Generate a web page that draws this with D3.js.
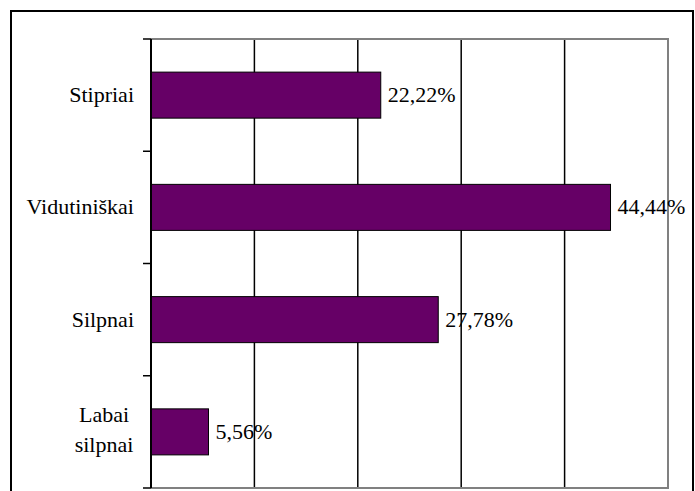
<!DOCTYPE html>
<html>
<head>
<meta charset="utf-8">
<script src="https://cdn.jsdelivr.net/npm/d3@7"></script>
<style>
  body { margin: 0; background: #fff; }
  svg text { font-family: "Times New Roman", "Liberation Serif", "DejaVu Serif", serif; font-size: 22px; }
</style>
</head>
<body>
<svg id="chart"></svg>
<script>
const categories = ["Stipriai", "Vidutiniškai", "Silpnai", "Labai silpnai"];
const values = [22.22, 44.44, 27.78, 5.56];
const valueLabels = ["22,22%", "44,44%", "27,78%", "5,56%"];
const xTicks = [0, 10, 20, 30, 40, 50];

let width = 695, height = 491;
let margin = {top: 39, right: 27, bottom: 3, left: 151};

let svg = d3.select("#chart").attr("width", width).attr("height", height);

// outer frame
svg.append("rect")
  .attr("x", 11).attr("y", 11)
  .attr("width", 682).attr("height", 500)
  .attr("fill", "none").attr("stroke", "#000").attr("stroke-width", 2);

let xScale = d3.scaleLinear().domain([0, 50]).range([margin.left, width - margin.right]);
let yScale = d3.scaleBand().domain(categories)
  .range([margin.top, height - margin.bottom]).paddingInner(0.59).paddingOuter(0.295);
let bandScale = d3.scaleBand().domain(categories).range([margin.top, height - margin.bottom]);

// gridlines
svg.append("g").selectAll("line").data(xTicks.slice(1, -1))
  .enter().append("line")
  .attr("x1", d => xScale(d)).attr("x2", d => xScale(d))
  .attr("y1", margin.top).attr("y2", height - margin.bottom)
  .attr("stroke", "#000").attr("stroke-width", 1.5);

// plot area border (gray)
svg.append("path")
  .attr("d", `M${margin.left},${margin.top}H${xScale(50)}V${height - margin.bottom}H${margin.left}`)
  .attr("fill", "none").attr("stroke", "#808080").attr("stroke-width", 2);

// bars
svg.append("g").selectAll("rect").data(values)
  .enter().append("rect")
  .attr("x", xScale(0))
  .attr("y", (d, i) => yScale(categories[i]))
  .attr("width", d => xScale(d) - xScale(0))
  .attr("height", yScale.bandwidth())
  .attr("fill", "#660066")
  .attr("stroke", "#000").attr("stroke-width", 1);

// left axis with ticks at band boundaries
let yAxisG = svg.append("g");
yAxisG.append("line")
  .attr("x1", margin.left).attr("x2", margin.left)
  .attr("y1", margin.top).attr("y2", height - margin.bottom)
  .attr("stroke", "#000").attr("stroke-width", 2);
let boundaries = categories.map(c => bandScale(c)).concat([bandScale.range()[1]]);
yAxisG.selectAll(".tick").data(boundaries)
  .enter().append("line")
  .attr("x1", margin.left - 8).attr("x2", margin.left)
  .attr("y1", d => d).attr("y2", d => d)
  .attr("stroke", "#000").attr("stroke-width", 1.5);

// category labels
let labelX = 134;
categories.forEach((c, i) => {
  let cy = yScale(c) + yScale.bandwidth() / 2;
  let words = c === "Labai silpnai" ? ["Labai", "silpnai"] : [c];
  if (words.length === 1) {
    svg.append("text").attr("x", labelX).attr("y", cy + 7)
      .attr("text-anchor", "end").text(c);
  } else {
    words.forEach((w, j) => {
      svg.append("text").attr("x", 104).attr("y", cy - 10 + j * 30)
        .attr("text-anchor", "middle").text(w);
    });
  }
});

// value labels
svg.append("g").selectAll("text").data(values)
  .enter().append("text")
  .attr("x", d => xScale(d) + 7)
  .attr("y", (d, i) => yScale(categories[i]) + yScale.bandwidth() / 2 + 7)
  .text((d, i) => valueLabels[i]);
</script>
</body>
</html>
